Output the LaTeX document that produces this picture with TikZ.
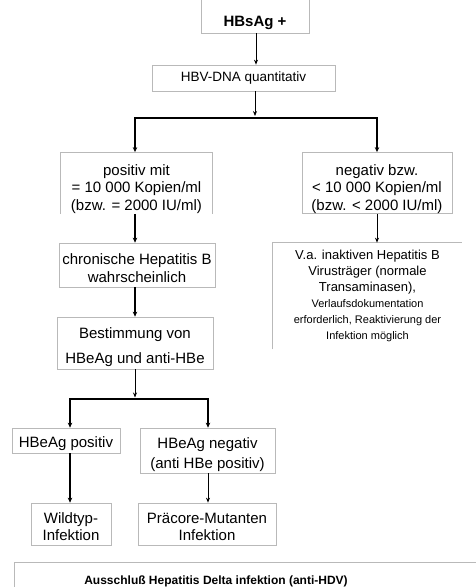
\documentclass[tikz,border=0pt]{standalone}
\usepackage{fontspec}
\setmainfont{Liberation Sans}
\usetikzlibrary{arrows.meta}
\newcommand\pshift[1]{\rule{0pt}{#1}}
\begin{document}
\begin{tikzpicture}[x=1pt,y=-1pt,
 box/.style={draw=gray!55, line width=0.7pt, inner sep=0pt, align=center, font=\fontsize{15}{17.5}\selectfont},
 openbox/.style={box, draw=none},
 edge/.style={draw=gray!55, line width=0.7pt},
 thinarr/.style={line width=0.8pt, -{Stealth[length=5pt,width=4pt]}},
 thickline/.style={line width=1.6pt},
 thickarr/.style={line width=1.6pt, -{Stealth[length=5pt,width=4.5pt]}}]
\useasboundingbox (0,0) rectangle (476,587);
\node[box, minimum width=108pt, minimum height=34pt, font=\bfseries\fontsize{15}{17}\selectfont] (hbsag) at (255,16) {\pshift{25pt}HBsAg +};
\node[box, minimum width=183pt, minimum height=26pt, font=\fontsize{13.5}{16}\selectfont] (hbv) at (243.5,78) {HBV-DNA quantitativ};
\node[openbox, minimum width=151pt, minimum height=60pt] (pos) at (136.5,183) {\pshift{23pt}positiv mit\\= 10 000 Kopien/ml\\(bzw. = 2000 IU/ml)};
\draw[edge] (pos.south west) -- (pos.north west) -- (pos.north east) -- (pos.south east);
\node[box, minimum width=150pt, minimum height=60pt] (neg) at (377,183) {\pshift{23pt}negativ bzw.\\< 10 000 Kopien/ml\\(bzw. < 2000 IU/ml)};
\node[box, minimum width=156pt, minimum height=44pt] (chron) at (137,265) {\pshift{17pt}chronische Hepatitis B\\wahrscheinlich};
\node[openbox, minimum width=189pt, minimum height=106pt, font=\fontsize{13}{16}\selectfont] (va) at (367.5,296)
 {V.a. inaktiven Hepatitis B\\Virusträger (normale\\Transaminasen),\\
  \fontsize{11}{14}\selectfont Verlaufsdokumentation\\
  \fontsize{11}{14}\selectfont erforderlich, Reaktivierung der\\
  \fontsize{11}{14}\selectfont Infektion möglich};
\draw[edge] (va.south west) -- (va.north west) -- (va.north east);
\node[box, minimum width=156pt, minimum height=52pt] (best) at (135,343) {\pshift{19pt}Bestimmung von\\[8pt]HBeAg und anti-HBe};
\node[box, minimum width=108pt, minimum height=25pt] (hpos) at (66,440.5) {\pshift{17pt}HBeAg positiv};
\node[box, minimum width=135pt, minimum height=45pt] (hneg) at (207.5,450.5) {\pshift{19pt}HBeAg negativ\\[3pt](anti HBe positiv)};
\node[box, minimum width=80pt, minimum height=42pt] (wild) at (71,524) {\pshift{16pt}Wildtyp-\\Infektion};
\node[box, minimum width=138pt, minimum height=42pt] (prae) at (207,524) {\pshift{16pt}Präcore-Mutanten\\Infektion};
\node[font=\bfseries\fontsize{12}{14}\selectfont, inner sep=0pt] (aus) at (216,581) {Ausschluß Hepatitis Delta infektion (anti-HDV)};
\draw[edge] (14,600) -- (14,562) -- (480,562);
% connectors
\coordinate (c1) at (256,0);
\coordinate (j1) at (255,118);
\coordinate (jl) at (135,118);
\coordinate (jr) at (377,118);
\draw[thinarr] (hbsag.south -| c1) -- (hbv.north -| c1);
\draw[thinarr] (hbv.south -| j1) -- (255,116);
\draw[thickline, {Stealth[length=5pt,width=4.5pt]}-{Stealth[length=5pt,width=4.5pt]}] (pos.north -| jl) -- (jl) -- (jr) -- (neg.north -| jr);
\draw[thickarr] (pos.south -| jl) -- (chron.north -| jl);
\draw[thinarr] (neg.south -| jr) -- (va.north -| jr);
\draw[thickarr] (chron.south -| jl) -- (best.north -| jl);
\coordinate (j2) at (135,399);
\coordinate (jl2) at (70,399);
\coordinate (jr2) at (208,399);
\draw[thinarr] (best.south -| j2) -- (135,397.5);
\draw[thickline, {Stealth[length=5pt,width=4.5pt]}-{Stealth[length=5pt,width=4.5pt]}] (hpos.north -| jl2) -- (jl2) -- (jr2) -- (hneg.north -| jr2);
\draw[thickarr] (hpos.south -| jl2) -- (wild.north -| jl2);
\draw[thinarr] (hneg.south -| jr2) -- (prae.north -| jr2);
\end{tikzpicture}
\end{document}
